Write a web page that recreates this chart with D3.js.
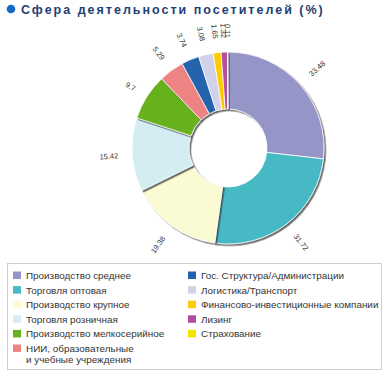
<!DOCTYPE html>
<html><head><meta charset="utf-8">
<script src="https://cdn.jsdelivr.net/npm/d3@7"></script>
<style>
html,body{margin:0;padding:0;background:#fff;}
svg{display:block;font-family:"Liberation Sans",Arial,sans-serif;}
</style></head>
<body>
<svg id="chart" width="390" height="378"></svg>
<script>
const title = "Сфера деятельности посетителей (%)";
const categories = [
  "Производство среднее",
  "Торговля оптовая",
  "Производство крупное",
  "Торговля розничная",
  "Производство мелкосерийное",
  "НИИ, образовательные|и учебные учреждения",
  "Гос. Структура/Администрации",
  "Логистика/Транспорт",
  "Финансово-инвестиционные компании",
  "Лизинг",
  "Страхование"
];
const values = [33.48, 31.72, 19.38, 15.42, 9.7, 5.29, 3.74, 3.08, 1.65, 1.32, 0.11];
const colors = ["#9595c7","#47b9c4","#fafad3","#d3edf3","#66b11f","#ee8383","#2563ad","#d1d1e9","#ffcb05","#b34f9f","#f2e600"];

const svg = d3.select("#chart");
const defs = svg.append("defs");
const f = defs.append("filter").attr("id","sh").attr("x","-20%").attr("y","-20%").attr("width","150%").attr("height","150%");
f.append("feDropShadow").attr("dx",1.6).attr("dy",1.6).attr("stdDeviation",0.7)
  .attr("flood-color","#333").attr("flood-opacity",0.75);

// title
svg.append("circle").attr("cx",11).attr("cy",9).attr("r",4.3).attr("fill","#1668c4");
svg.append("text").attr("x",21).attr("y",14).text(title)
  .attr("font-size",12.5).attr("font-weight","bold").attr("letter-spacing",2.0)
  .attr("fill","#1d3f74");

const cx = 228, cy = 148, R = 96, r0 = 39;
const pie = d3.pie().sort(null).value(d => d)(values);
const arc = d3.arc().innerRadius(r0).outerRadius(R);
const g = svg.append("g").attr("transform",`translate(${cx},${cy})`);
g.selectAll("path.slice").data(pie).join("path")
  .attr("class","slice")
  .attr("d",arc)
  .attr("fill",(d,i)=>colors[i])
  .attr("stroke","#fff").attr("stroke-width",0.8)
  .attr("filter","url(#sh)");

// radial labels
const rl = 110;
g.selectAll("text.lbl").data(pie).join("text")
  .attr("class","lbl")
  .each(function(d){
    const a = (d.startAngle + d.endAngle)/2;
    const deg = a*180/Math.PI;
    const x = rl*Math.sin(a), y = -rl*Math.cos(a);
    const left = a > Math.PI;
    d3.select(this)
      .attr("transform",`translate(${x},${y}) rotate(${left ? deg+90 : deg-90})`)
      .attr("text-anchor", left ? "end" : "start");
  })
  .attr("dy","0.35em")
  .attr("font-size",7.5).attr("fill","#333")
  .text(d => String(d.data));

// legend
const lg = svg.append("g");
lg.append("rect").attr("x",7.5).attr("y",263.5).attr("width",374).attr("height",106)
  .attr("fill","#fff").attr("stroke","#cfcfcf").attr("stroke-width",1);
const rowH = 14.6;
categories.forEach((c,i)=>{
  const col = i < 6 ? 0 : 1;
  const row = i < 6 ? i : i-6;
  const x = col === 0 ? 13 : 188;
  const y = 271.5 + row*rowH;
  lg.append("rect").attr("x",x).attr("y",y).attr("width",8).attr("height",7.5).attr("fill",colors[i]);
  const t = lg.append("text").attr("x",x+13).attr("y",y+7.5).attr("font-size",9.9).attr("fill","#333");
  const parts = c.split("|");
  parts.forEach((p,k)=>{
    t.append("tspan").attr("x",x+13).attr("dy",k===0?0:11).text(p);
  });
});
</script>
</body></html>
